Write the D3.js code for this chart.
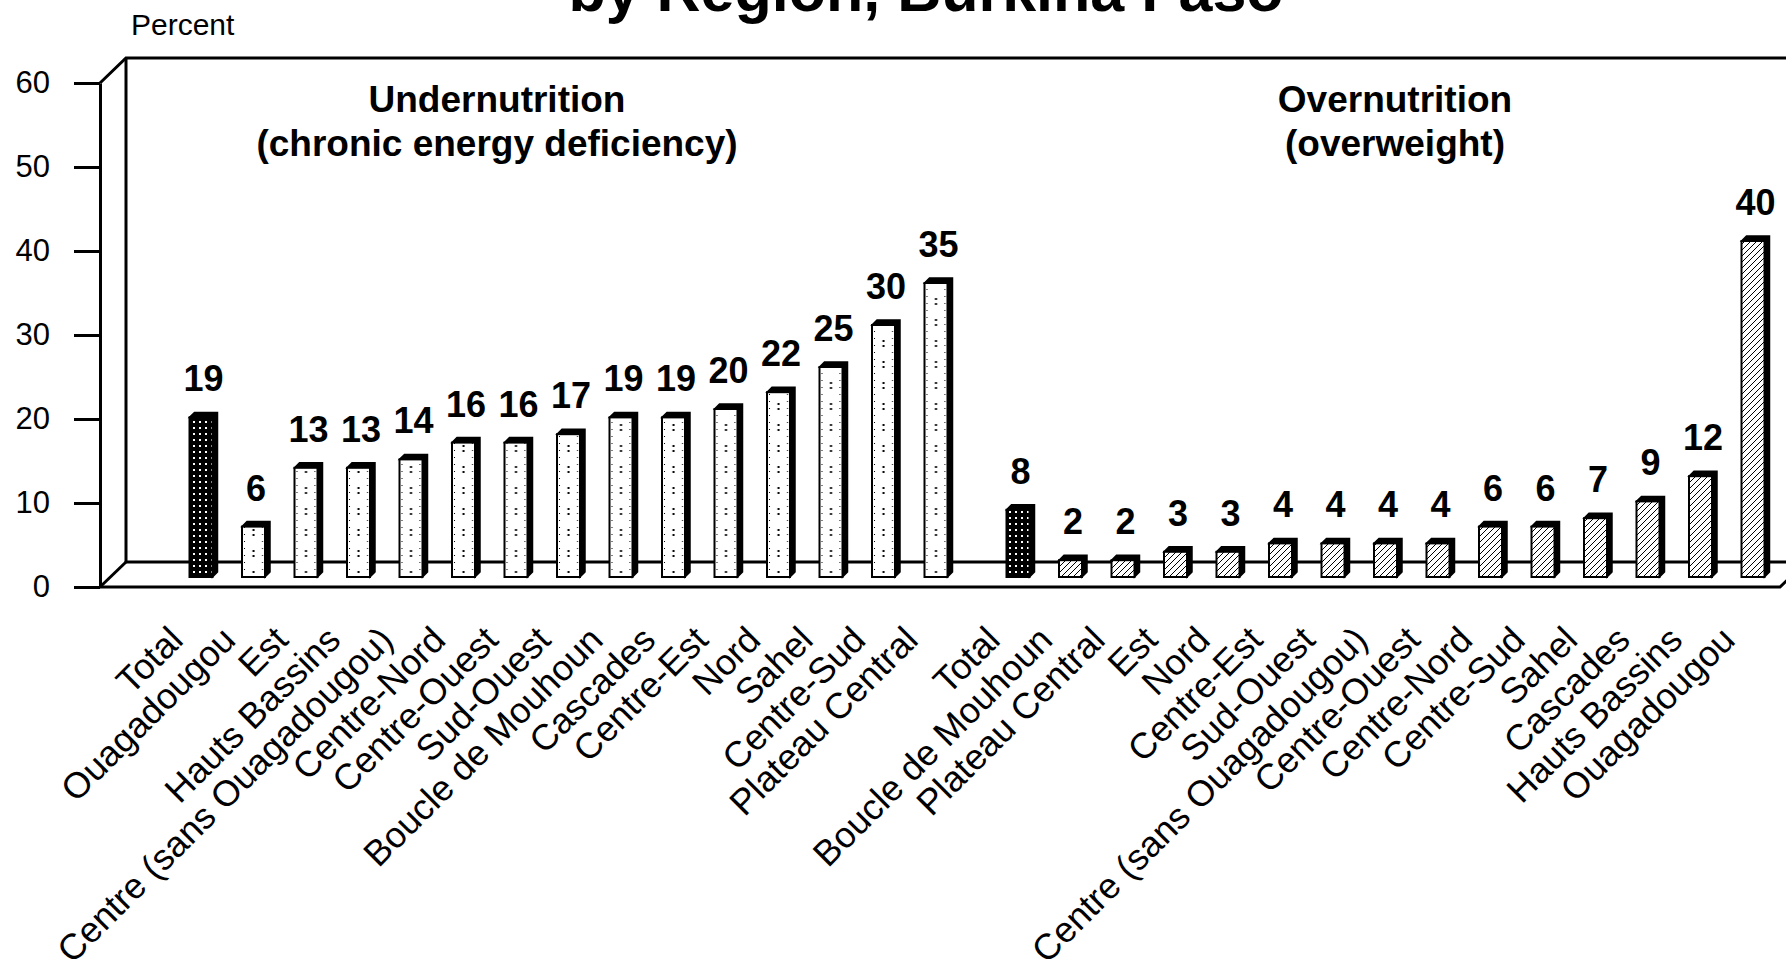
<!DOCTYPE html>
<html>
<head>
<meta charset="utf-8">
<script src="https://cdn.jsdelivr.net/npm/d3@7"></script>
<style>
  body { margin: 0; background: #fff; }
  text { font-family: Arial, "Liberation Sans", sans-serif; fill: #000; }
</style>
</head>
<body>
<script>
// data
const underCats = ['Total', 'Ouagadougou', 'Est', 'Hauts Bassins', 'Centre (sans Ouagadougou)', 'Centre-Nord',
  'Centre-Ouest', 'Sud-Ouest', 'Boucle de Mouhoun', 'Cascades', 'Centre-Est', 'Nord', 'Sahel', 'Centre-Sud', 'Plateau Central'];
const underVals = [19, 6, 13, 13, 14, 16, 16, 17, 19, 19, 20, 22, 25, 30, 35];

const overCats = ['Total', 'Boucle de Mouhoun', 'Plateau Central', 'Est', 'Nord', 'Centre-Est', 'Sud-Ouest',
  'Centre (sans Ouagadougou)', 'Centre-Ouest', 'Centre-Nord', 'Centre-Sud', 'Sahel', 'Cascades', 'Hauts Bassins', 'Ouagadougou'];
const overVals = [8, 2, 2, 3, 3, 4, 4, 4, 4, 6, 6, 7, 9, 12, 40];

const yTicks = [0, 10, 20, 30, 40, 50, 60];

const width = 1786, height = 966;
const depth = {x: 26, y: 25};   // back wall offset
const barLift = 10;               // bars stand a bit behind the front edge
const barW = 23, barD = 5;

let svg = d3.select('body').append('svg')
  .attr('width', width)
  .attr('height', height);

// patterns
let defs = svg.append('defs');

let dark = defs.append('pattern').attr('id', 'dark')
  .attr('patternUnits', 'userSpaceOnUse').attr('width', 6).attr('height', 6);
dark.append('rect').attr('width', 6).attr('height', 6).attr('fill', '#000');
dark.append('rect').attr('x', 1).attr('y', 1).attr('width', 2).attr('height', 2).attr('fill', '#fff');

let hatch = defs.append('pattern').attr('id', 'hatch')
  .attr('patternUnits', 'userSpaceOnUse').attr('width', 6).attr('height', 6);
hatch.append('rect').attr('width', 6).attr('height', 6).attr('fill', '#fff');
hatch.append('path').attr('d', 'M-1,7 L7,-1 M-4,4 L4,-4 M2,10 L10,2')
  .attr('stroke', '#000').attr('stroke-width', 1);

// scales
let y = d3.scaleLinear().domain([0, 60]).range([587, 83]);
let xUnder = d3.scalePoint().domain(underCats).range([177.25, 964.75]).padding(0.5);
let xOver = d3.scalePoint().domain(overCats).range([994.25, 1781.75]).padding(0.5);

// light dotted pattern, one column per bar step
let step = xUnder.step();
let x0 = xUnder(underCats[0]) - (barW + barD) / 2;
let dots = defs.append('pattern').attr('id', 'dots')
  .attr('patternUnits', 'userSpaceOnUse')
  .attr('x', x0).attr('y', 0)
  .attr('width', step).attr('height', 21);
dots.append('rect').attr('width', step).attr('height', 21).attr('fill', '#fff');
[[10.5, 4], [10.5, 9]].forEach(p => {
  dots.append('rect').attr('x', p[0]).attr('y', p[1]).attr('width', 2).attr('height', 2).attr('fill', '#000');
});
[0, 7, 14].forEach(py => {
  dots.append('rect').attr('x', 2).attr('y', py + 2).attr('width', 1).attr('height', 1).attr('fill', '#000');
  dots.append('rect').attr('x', barW - 3).attr('y', py + 2).attr('width', 1).attr('height', 1).attr('fill', '#000');
});

// walls and floor
let frame = svg.append('g').attr('fill', 'none').attr('stroke', '#000').attr('stroke-width', 3);
let fx = 100, fxEnd = 1780;
frame.append('path')
  .attr('d', `M${fx},${y(60)} L${fx + depth.x},${y(60) - depth.y} L${fxEnd + depth.x + 40},${y(60) - depth.y}`);
frame.append('path')
  .attr('d', `M${fx + depth.x},${y(60) - depth.y} L${fx + depth.x},${y(0) - depth.y} L${fxEnd + depth.x + 40},${y(0) - depth.y}`);
frame.append('path')
  .attr('d', `M${fx},${y(0)} L${fx + depth.x},${y(0) - depth.y}`);
frame.append('path')
  .attr('d', `M${fx},${y(0)} L${fxEnd},${y(0)} L${fxEnd + depth.x},${y(0) - depth.y}`);

// y axis
let yAxis = svg.append('g')
  .attr('transform', `translate(${fx},0)`)
  .call(d3.axisLeft(y).tickValues(yTicks).tickSize(26).tickSizeOuter(0).tickPadding(24));
yAxis.selectAll('path, line').attr('stroke', '#000').attr('stroke-width', 3);
yAxis.selectAll('text').style('font-size', '31px').attr('fill', '#000');

svg.append('text')
  .attr('x', 131).attr('y', 35)
  .style('font-size', '30px')
  .text('Percent');

// bars
function drawBars(cats, vals, xs, fillFn) {
  let g = svg.append('g');
  let bars = g.selectAll('g.bar')
    .data(cats.map((c, i) => ({cat: c, v: vals[i], i: i})))
    .enter().append('g').attr('class', 'bar');
  let base = y(0) - barLift;
  bars.each(function (d) {
    let b = d3.select(this);
    let left = xs(d.cat) - (barW + barD) / 2;
    let top = y(d.v) - barLift;
    b.append('path')
      .attr('d', `M${left},${top} L${left + barD},${top - barD} L${left + barW + barD},${top - barD} L${left + barW + barD},${base - barD} L${left + barW},${base} L${left + barW},${top} Z`)
      .attr('fill', '#000').attr('stroke', '#000').attr('stroke-width', 1.5);
    b.append('rect')
      .attr('x', left).attr('y', top)
      .attr('width', barW).attr('height', base - top)
      .attr('fill', fillFn(d)).attr('stroke', '#000').attr('stroke-width', 2);
    b.append('text')
      .attr('x', xs(d.cat)).attr('y', top - 26)
      .attr('text-anchor', 'middle')
      .style('font-size', '36px').style('font-weight', 'bold')
      .text(d.v);
  });
}
drawBars(underCats, underVals, xUnder, d => d.i === 0 ? 'url(#dark)' : 'url(#dots)');
drawBars(overCats, overVals, xOver, d => d.i === 0 ? 'url(#dark)' : 'url(#hatch)');

// category labels
function catAxis(xs) {
  let ax = svg.append('g')
    .attr('transform', `translate(-19,642)`)
    .call(d3.axisBottom(xs).tickSize(0).tickPadding(0));
  ax.select('.domain').remove();
  ax.selectAll('text')
    .attr('y', 0).attr('dy', 0)
    .attr('text-anchor', 'end')
    .attr('transform', 'rotate(-45)')
    .style('font-size', '36px')
    .attr('fill', '#000');
}
catAxis(xUnder);
catAxis(xOver);

// group headers
function header(x, lines) {
  let t = svg.append('text')
    .attr('text-anchor', 'middle')
    .style('font-size', '37px').style('font-weight', 'bold');
  lines.forEach((l, i) => {
    t.append('tspan').attr('x', x).attr('y', 112 + i * 44).text(l);
  });
}
header(497, ['Undernutrition', '(chronic energy deficiency)']);
header(1395, ['Overnutrition', '(overweight)']);

// title (upper part cut off by the page edge)
svg.append('text')
  .attr('x', 926).attr('y', 11)
  .attr('text-anchor', 'middle')
  .style('font-size', '61px').style('font-weight', 'bold')
  .text('by Region, Burkina Faso');
</script>
</body>
</html>
